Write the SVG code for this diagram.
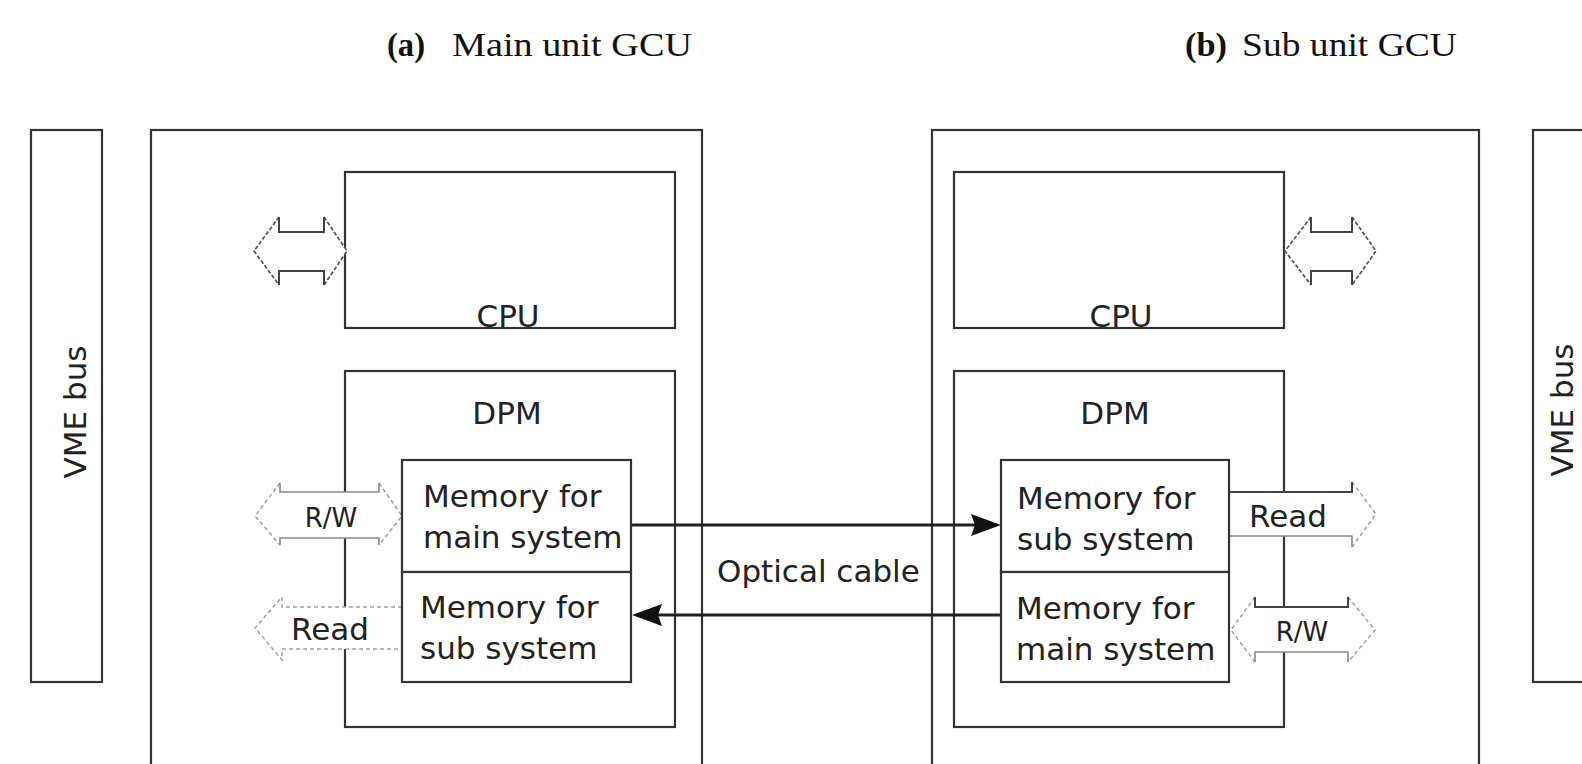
<svg xmlns="http://www.w3.org/2000/svg" width="1582" height="764" viewBox="0 0 1582 764">
  <style>
    .box { fill: none; stroke: #333; stroke-width: 2.2; }
    .wbox { fill: #fff; stroke: #333; stroke-width: 2.2; }
    .lbl { font-family: "DejaVu Sans", "Liberation Sans", sans-serif; font-size: 31px; fill: #222; }
    .sm { font-size: 26px; }
    .mid { text-anchor: middle; }
    .title { font-family: "Liberation Serif", "Times New Roman", serif; font-size: 34px; fill: #111; }
    .cable { fill: none; stroke: #222; stroke-width: 3; }
    .bodyfill { fill: #fff; stroke: none; }
    .solid { fill: none; stroke: #444; stroke-width: 2; }
    .grey { fill: none; stroke: #8a8a8a; stroke-width: 1.6; }
    .dash { fill: none; stroke: #555; stroke-width: 1.7; stroke-dasharray: 4 2; }
    .faint { fill: none; stroke: #a0a0a0; stroke-width: 1.5; stroke-dasharray: 4 3; }
  </style>
  <defs>
    <marker id="head" viewBox="0 0 30 22" refX="20" refY="11" markerWidth="30" markerHeight="22" markerUnits="userSpaceOnUse" orient="auto">
      <path d="M0,0 L30,11 L0,22 L4,11 z" fill="#111"/>
    </marker>
  </defs>

  <rect width="1582" height="764" fill="#fff"/>

  <!-- headings -->
  <g id="title-a">
    <text class="title" x="387" y="56" font-weight="bold" textLength="38" lengthAdjust="spacingAndGlyphs">(a)</text>
    <text class="title" x="452" y="56" textLength="240" lengthAdjust="spacingAndGlyphs">Main unit GCU</text>
  </g>
  <g id="title-b">
    <text class="title" x="1185" y="56" font-weight="bold" textLength="42" lengthAdjust="spacingAndGlyphs">(b)</text>
    <text class="title" x="1242" y="56" textLength="215" lengthAdjust="spacingAndGlyphs">Sub unit GCU</text>
  </g>

  <!-- VME buses -->
  <g id="vme-left">
    <rect class="box" x="31" y="130" width="71" height="552"/>
    <text class="lbl mid" transform="translate(86,412) rotate(-90)">VME bus</text>
  </g>
  <g id="vme-right">
    <rect class="box" x="1533" y="130" width="100" height="552"/>
    <text class="lbl mid" transform="translate(1573,410) rotate(-90)">VME bus</text>
  </g>

  <!-- main unit -->
  <g id="unit-main">
    <rect class="box" x="151" y="130" width="551" height="700"/>
  </g>
  <g id="cpu-main">
    <rect class="box" x="345" y="172" width="330" height="156"/>
    <text class="lbl mid" x="508" y="327">CPU</text>
  </g>
  <g id="dpm-main">
    <rect class="box" x="345" y="371" width="330" height="356"/>
    <text class="lbl mid" x="507" y="424">DPM</text>
  </g>

  <!-- sub unit -->
  <g id="unit-sub">
    <rect class="box" x="932" y="130" width="547" height="700"/>
  </g>
  <g id="cpu-sub">
    <rect class="box" x="954" y="172" width="330" height="156"/>
    <text class="lbl mid" x="1121" y="327">CPU</text>
  </g>
  <g id="dpm-sub">
    <rect class="box" x="954" y="371" width="330" height="356"/>
    <text class="lbl mid" x="1115" y="424">DPM</text>
  </g>

  <!-- connectors: bus arrows and optical links -->
  <g id="connectors">
    <!-- CPU to VME, main unit -->
    <g id="bus-cpu-main">
      <polygon class="bodyfill" points="254,251 279,217 279,232 324,232 324,217 347,251 324,285 324,271 279,271 279,285"/>
      <path class="dash" d="M279,217 L254,251 L279,285 M324,217 L347,251 L324,285"/>
      <path class="solid" d="M279,217 V232 H324 V217 M279,285 V271 H324 V285"/>
    </g>
    <!-- R/W, main unit -->
    <g id="bus-rw-main">
      <polygon class="bodyfill" points="255,516 280,483 280,492 379,492 379,483 402,516 379,545 379,538 280,538 280,545"/>
      <path class="faint" d="M280,483 L255,516 L280,545 M379,483 L402,516 L379,545"/>
      <path class="grey" d="M280,483 V492 H379 V483 M280,545 V538 H379 V545"/>
      <text class="lbl sm mid" x="331" y="527">R/W</text>
    </g>
    <!-- Read, main unit -->
    <g id="bus-read-main">
      <polygon class="bodyfill" points="255,628 282,597 282,607 402,607 402,649 282,649 282,660"/>
      <path class="faint" d="M402,607 H282 V597 L255,628 L282,660 V649 H402"/>
      <text class="lbl mid" x="330" y="640">Read</text>
    </g>

    <!-- CPU to VME, sub unit -->
    <g id="bus-cpu-sub">
      <polygon class="bodyfill" points="1285,251 1311,217 1311,232 1352,232 1352,217 1376,251 1352,285 1352,271 1311,271 1311,285"/>
      <path class="dash" d="M1311,217 L1285,251 L1311,285 M1352,217 L1376,251 L1352,285"/>
      <path class="solid" d="M1311,217 V232 H1352 V217 M1311,285 V271 H1352 V285"/>
    </g>
    <!-- Read, sub unit -->
    <g id="bus-read-sub">
      <polygon class="bodyfill" points="1229,492 1352,492 1352,482 1376,514 1352,547 1352,536 1229,536"/>
      <path class="faint" d="M1352,482 L1376,514 L1352,547"/>
      <path class="solid" d="M1229,492 H1352 V482"/>
      <path class="grey" d="M1229,536 H1352 V547"/>
      <text class="lbl mid" x="1288" y="527">Read</text>
    </g>
    <!-- R/W, sub unit -->
    <g id="bus-rw-sub">
      <polygon class="bodyfill" points="1231,630 1255,597 1255,607 1348,607 1348,597 1375,630 1348,662 1348,652 1255,652 1255,662"/>
      <path class="faint" d="M1255,597 L1231,630 L1255,662 M1348,597 L1375,630 L1348,662"/>
      <path class="solid" d="M1255,597 V607 H1348 V597"/>
      <path class="grey" d="M1255,662 V652 H1348 V662"/>
      <text class="lbl sm mid" x="1302" y="641">R/W</text>
    </g>

    <!-- optical cable links -->
    <line class="cable" x1="631" y1="525" x2="991" y2="525" marker-end="url(#head)"/>
    <line class="cable" x1="1001" y1="615" x2="642" y2="615" marker-end="url(#head)"/>
    <text class="lbl" x="717" y="582">Optical cable</text>
  </g>

  <!-- dual-port memory blocks -->
  <g id="mem-main-a">
    <rect class="wbox" x="402" y="460" width="229" height="112"/>
    <text class="lbl" x="423" y="507">Memory for</text>
    <text class="lbl" x="423" y="548">main system</text>
  </g>
  <g id="mem-sub-a">
    <rect class="wbox" x="402" y="572" width="229" height="110"/>
    <text class="lbl" x="420" y="618">Memory for</text>
    <text class="lbl" x="420" y="659">sub system</text>
  </g>
  <g id="mem-sub-b">
    <rect class="wbox" x="1001" y="460" width="228" height="112"/>
    <text class="lbl" x="1017" y="509">Memory for</text>
    <text class="lbl" x="1017" y="550">sub system</text>
  </g>
  <g id="mem-main-b">
    <rect class="wbox" x="1001" y="572" width="228" height="110"/>
    <text class="lbl" x="1016" y="619">Memory for</text>
    <text class="lbl" x="1016" y="660">main system</text>
  </g>
</svg>
